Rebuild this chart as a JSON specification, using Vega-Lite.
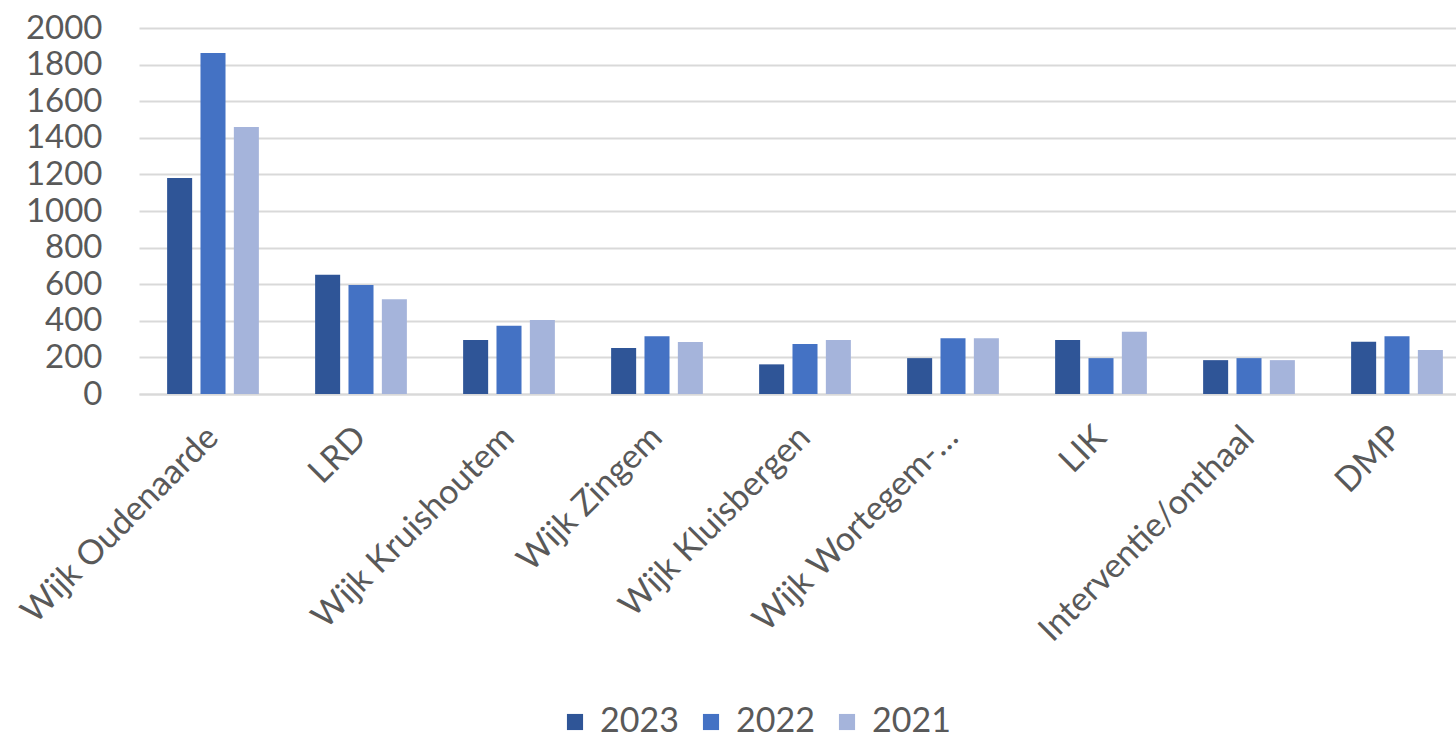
{
  "$schema": "https://vega.github.io/schema/vega-lite/v6.json",
  "width": 1332,
  "height": 366,
  "autosize": {"type": "none"},
  "padding": {"left": 139, "top": 28, "right": 0, "bottom": 353},
  "background": "white",
  "config": {
    "view": {"stroke": null},
    "font": "Lato",
    "axis": {"labelFont": "Lato", "labelColor": "#595959", "labelFontSize": 33}
  },
  "data": {
    "values": [
      {"cat": "Wijk Oudenaarde", "year": "2023", "value": 1180},
      {"cat": "Wijk Oudenaarde", "year": "2022", "value": 1863},
      {"cat": "Wijk Oudenaarde", "year": "2021", "value": 1459},
      {"cat": "LRD", "year": "2023", "value": 651},
      {"cat": "LRD", "year": "2022", "value": 596},
      {"cat": "LRD", "year": "2021", "value": 518},
      {"cat": "Wijk Kruishoutem", "year": "2023", "value": 295},
      {"cat": "Wijk Kruishoutem", "year": "2022", "value": 373},
      {"cat": "Wijk Kruishoutem", "year": "2021", "value": 405},
      {"cat": "Wijk Zingem", "year": "2023", "value": 251},
      {"cat": "Wijk Zingem", "year": "2022", "value": 316},
      {"cat": "Wijk Zingem", "year": "2021", "value": 284},
      {"cat": "Wijk Kluisbergen", "year": "2023", "value": 162},
      {"cat": "Wijk Kluisbergen", "year": "2022", "value": 273},
      {"cat": "Wijk Kluisbergen", "year": "2021", "value": 295},
      {"cat": "Wijk Wortegem-…", "year": "2023", "value": 196},
      {"cat": "Wijk Wortegem-…", "year": "2022", "value": 305},
      {"cat": "Wijk Wortegem-…", "year": "2021", "value": 305},
      {"cat": "LIK", "year": "2023", "value": 295},
      {"cat": "LIK", "year": "2022", "value": 196},
      {"cat": "LIK", "year": "2021", "value": 340},
      {"cat": "Interventie/onthaal", "year": "2023", "value": 185},
      {"cat": "Interventie/onthaal", "year": "2022", "value": 196},
      {"cat": "Interventie/onthaal", "year": "2021", "value": 185},
      {"cat": "DMP", "year": "2023", "value": 285},
      {"cat": "DMP", "year": "2022", "value": 316},
      {"cat": "DMP", "year": "2021", "value": 240}
    ]
  },
  "mark": {"type": "bar"},
  "encoding": {
    "x": {
      "field": "cat",
      "type": "nominal",
      "sort": null,
      "title": null,
      "scale": {"paddingInner": 0.38, "paddingOuter": 0.19},
      "axis": {
        "labelAngle": -45,
        "labelAlign": "right",
        "labelBaseline": "middle",
        "labelPadding": 38,
        "labelFontSize": 34,
        "ticks": false,
        "domainColor": "#D9D9D9",
        "domainWidth": 2,
        "labelLimit": 0
      }
    },
    "xOffset": {
      "field": "year",
      "type": "nominal",
      "sort": ["2023", "2022", "2021"],
      "scale": {"paddingInner": 0.25, "paddingOuter": 0}
    },
    "y": {
      "field": "value",
      "type": "quantitative",
      "title": null,
      "scale": {"domain": [0, 2000], "nice": false},
      "axis": {
        "values": [0, 200, 400, 600, 800, 1000, 1200, 1400, 1600, 1800, 2000],
        "format": "d",
        "ticks": false,
        "domain": false,
        "labelPadding": 37,
        "gridColor": "#D9D9D9",
        "gridWidth": 2
      }
    },
    "color": {
      "field": "year",
      "type": "nominal",
      "sort": ["2023", "2022", "2021"],
      "scale": {"domain": ["2023", "2022", "2021"], "range": ["#2F5597", "#4472C4", "#A5B4DB"]},
      "legend": {
        "title": null,
        "orient": "none",
        "direction": "horizontal",
        "legendX": 419,
        "legendY": 677,
        "padding": 0,
        "symbolType": "square",
        "symbolSize": 260,
        "symbolStrokeWidth": 0,
        "labelFont": "Lato",
        "labelFontSize": 34,
        "labelColor": "#595959",
        "labelOffset": 8,
        "columnPadding": 15
      }
    }
  }
}
